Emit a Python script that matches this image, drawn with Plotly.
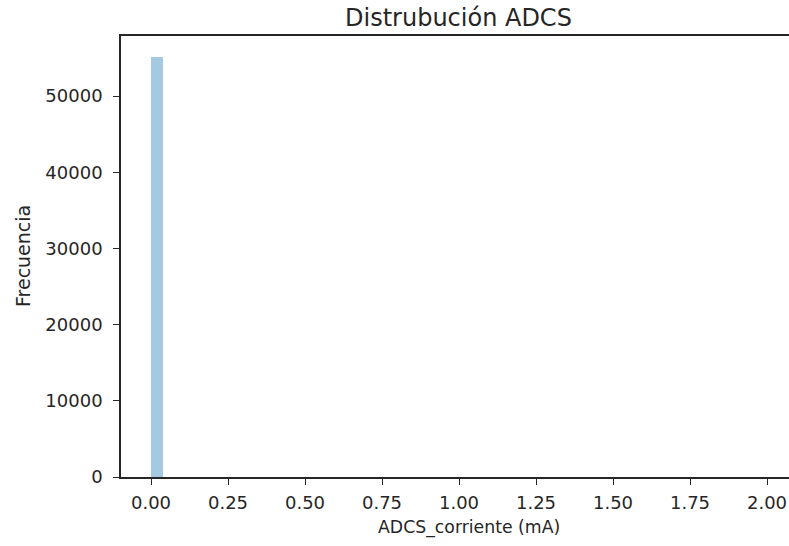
import plotly.graph_objects as go

# Histogram of ADCS current: 50 bins of width 0.04 mA between 0 and 2.0 mA
bin_width = 0.04
bin_starts = [round(i * bin_width, 2) for i in range(50)]
counts = [55118] + [0] * 48 + [1]

x_ticks = [0.0, 0.25, 0.5, 0.75, 1.0, 1.25, 1.5, 1.75, 2.0]
x_tick_labels = ["0.00", "0.25", "0.50", "0.75", "1.00", "1.25", "1.50", "1.75", "2.00"]
y_ticks = [0, 10000, 20000, 30000, 40000, 50000]
y_tick_labels = ["0", "10000", "20000", "30000", "40000", "50000"]

FONT = "DejaVu Sans"
INK = "#262626"
TICK_SIZE = 18

fig = go.Figure(
    go.Bar(
        x=[s + bin_width / 2 for s in bin_starts],
        y=counts,
        width=bin_width,
        marker=dict(color="rgba(31,119,180,0.4)", line=dict(width=0)),
        hoverinfo="x+y",
    )
)

W, H = 789, 546
left, right, top, bottom = 121, 0, 35.5, 69.3

fig.update_layout(
    width=W,
    height=H,
    margin=dict(l=left, r=right, t=top, b=bottom, pad=0),
    paper_bgcolor="white",
    plot_bgcolor="white",
    showlegend=False,
    bargap=0,
    font=dict(family=FONT, size=TICK_SIZE, color=INK),
    xaxis=dict(
        range=[-0.0974, 2.0714],
        tickvals=x_ticks,
        ticktext=x_tick_labels,
        ticks="outside",
        ticklen=6,
        tickwidth=1.4,
        tickcolor=INK,
        ticklabelstandoff=3,
        showline=True,
        linecolor=INK,
        linewidth=1.6,
        mirror=True,
        showgrid=False,
        zeroline=False,
        tickfont=dict(family=FONT, size=TICK_SIZE, color=INK),
    ),
    yaxis=dict(
        range=[0, 57874],
        tickvals=y_ticks,
        ticktext=y_tick_labels,
        ticks="outside",
        ticklen=6,
        tickwidth=1.4,
        tickcolor=INK,
        ticklabelstandoff=7,
        showline=True,
        linecolor=INK,
        linewidth=1.6,
        mirror=False,
        showgrid=False,
        zeroline=False,
        tickfont=dict(family=FONT, size=TICK_SIZE, color=INK),
    ),
    annotations=[
        dict(
            text="Distrubución ADCS",
            xref="paper", yref="paper",
            x=(458.5 - left) / (W - left - right), y=1,
            xanchor="center", yanchor="bottom", yshift=2,
            showarrow=False,
            font=dict(family=FONT, size=24, color=INK),
        ),
        dict(
            text="ADCS_corriente (mA)",
            xref="paper", yref="paper",
            x=(469 - left) / (W - left - right), y=0,
            xanchor="center", yanchor="top", yshift=-38,
            showarrow=False,
            font=dict(family=FONT, size=17.3, color=INK),
        ),
        dict(
            text="Frecuencia",
            xref="paper", yref="paper",
            x=0, y=0.5,
            xanchor="center", yanchor="middle", xshift=-(left - 22.5),
            textangle=-90,
            showarrow=False,
            font=dict(family=FONT, size=19, color=INK),
        ),
    ],
)

fig.write_html("out.html")
